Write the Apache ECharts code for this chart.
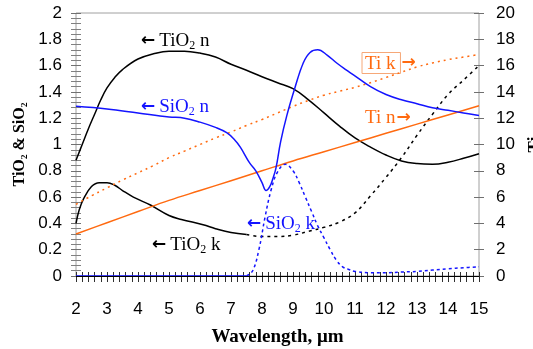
<!DOCTYPE html>
<html>
<head>
<meta charset="utf-8">
<script src="https://cdn.jsdelivr.net/npm/echarts@6/dist/echarts.min.js"></script>
<style>
html, body { margin: 0; padding: 0; background: #fff; }
#main { width: 533px; height: 349px; }
</style>
</head>
<body>
<div id="main"></div>
<script>
// [wavelength um, value]
var tio2N = [[2,0.88],[2.2,1.0],[2.4,1.12],[2.6,1.23],[2.8,1.34],[3,1.43],[3.25,1.51],[3.5,1.57],
	[4,1.65],[4.5,1.69],[5,1.71],[5.5,1.71],[6,1.695],[6.5,1.665],[7,1.61],[7.5,1.565],[8,1.515],
	[8.5,1.47],[9,1.425],[9.5,1.34],[10,1.24],[10.5,1.14],[11,1.05],[11.5,0.98],[12,0.92],
	[12.5,0.875],[13,0.855],[13.5,0.85],[14,0.865],[14.5,0.895],[15,0.93]];
var sio2N = [[2,1.29],[3,1.27],[4,1.24],[5,1.21],[5.5,1.2],[6,1.17],[6.5,1.13],[6.86,1.09],[7.1,1.04],
	[7.3,0.98],[7.6,0.86],[7.8,0.8],[8,0.71],[8.13,0.65],[8.25,0.68],[8.35,0.74],[8.45,0.82],[8.6,1.02],
	[8.8,1.22],[9.06,1.43],[9.33,1.62],[9.55,1.7],[9.8,1.72],[10.1,1.68],[10.41,1.62],[10.7,1.57],
	[10.95,1.53],[11.5,1.44],[12,1.38],[12.5,1.34],[13,1.31],[13.5,1.28],[14,1.26],[14.5,1.24],[15,1.22]];
var tio2K = [[2,0.4],[2.1,0.5],[2.25,0.59],[2.5,0.68],[2.75,0.71],[3,0.71],[3.25,0.69],[3.5,0.65],
	[3.85,0.6],[4.4,0.54],[5,0.46],[5.4,0.43],[6.1,0.39],[6.5,0.36],[7,0.33],[7.5,0.315],[8,0.3],
	[8.5,0.3],[9,0.31],[9.5,0.34],[10,0.37],[10.5,0.41],[11,0.48],[11.5,0.61],[12,0.75],[12.5,0.9],
	[13,1.07],[13.5,1.23],[14,1.38],[14.5,1.49],[15,1.6]];
var sio2K = [[2,0],[3,0],[4,0],[5,0],[6,0],[7,0],[7.5,0],[7.7,0.04],[7.9,0.2],[8.1,0.45],[8.3,0.66],
	[8.5,0.79],[8.75,0.85],[9,0.8],[9.2,0.71],[9.4,0.6],[9.6,0.49],[9.8,0.38],[10,0.29],[10.2,0.2],
	[10.4,0.12],[10.6,0.07],[10.8,0.05],[11,0.035],[11.5,0.025],[12,0.025],[12.5,0.03],[13,0.035],
	[13.5,0.045],[14,0.055],[14.5,0.063],[15,0.07]];
var tiN = [[2,3.2],[3,4.05],[4,4.9],[5,5.75],[6,6.5],[7,7.25],[8,8.0],[9,8.75],[10,9.45],[11,10.15],
	[12,10.85],[13,11.55],[14,12.25],[15,12.95]];
var tiK = [[2,5.45],[2.5,6.1],[3,6.7],[3.5,7.3],[4,7.85],[4.5,8.4],[5,9.0],[5.5,9.5],[6,10.0],[6.5,10.5],
	[7,10.95],[7.5,11.45],[8,11.9],[8.5,12.4],[9,12.9],[9.5,13.35],[10,13.75],[10.5,14.05],[11,14.35],
	[11.5,14.7],[12,15.1],[12.5,15.5],[13,15.9],[13.5,16.2],[14,16.45],[14.5,16.65],[15,16.85]];
var kBreak = 7.5; // k curves go dotted from here on

var serif = 'Liberation Serif';
var sans = 'Liberation Sans';
var black = '#000000';
var blue = '#1414ff';
var orange = '#ff6a10';

function before(d) { return d.filter(function (p) { return p[0] <= kBreak; }); }
function after(d) { return d.filter(function (p) { return p[0] >= kBreak; }); }

// graphic text tokens take fill, not color
function rich(color) {
	return {
		a: { fontFamily: 'DejaVu Sans', fontWeight: 'bold', fontSize: 17, fill: color, padding: [0, 4, 0, 0] },
		r: { fontFamily: 'DejaVu Sans', fontWeight: 'bold', fontSize: 17, fill: color, padding: [0, 0, 0, 1] },
		b: { fontFamily: serif, fontSize: 19, fill: color },
		s: { fontFamily: serif, fontSize: 12, fill: color, padding: [9, 0, 0, 0] },
		box: { fontFamily: serif, fontSize: 19, fill: color, borderColor: '#f6a878', borderWidth: 1, padding: [2, 5, 0, 3] }
	};
}

function label(x, y, text, color) {
	return {
		type: 'text', x: x, y: y,
		style: { text: text, fill: color, rich: rich(color), verticalAlign: 'middle', align: 'left' }
	};
}

function line(name, data, color, yIdx, dash) {
	return {
		name: name, type: 'line', data: data, yAxisIndex: yIdx,
		smooth: 0.4, symbol: 'none',
		lineStyle: { color: color, width: 1.5, type: dash || 'solid' }
	};
}

var chart = echarts.init(document.getElementById('main'));
chart.setOption({
	animation: false,
	grid: { left: 76, right: 54, top: 13, bottom: 73, show: true, borderColor: '#a0a0a0', borderWidth: 1,
		containLabel: false, outerBoundsMode: 'none' },
	// ticks cross the frame: the axes sit a few px inside and their ticks point out over the border
	xAxis: {
		type: 'value', min: 2, max: 15, interval: 1, offset: -4,
		axisLine: { show: true, onZero: false, lineStyle: { color: 'rgba(0,0,0,0)' } },
		axisTick: { show: true, length: 10, lineStyle: { color: '#303030', width: 1 } },
		minorTick: { show: true, splitNumber: 5, length: 10, lineStyle: { color: '#303030', width: 1 } },
		splitLine: { show: false },
		axisLabel: { margin: 29, fontFamily: sans, fontSize: 17, color: '#000' },
		name: 'Wavelength, μm', nameLocation: 'middle', nameGap: 56,
		nameTextStyle: { fontFamily: serif, fontWeight: 'bold', fontSize: 19, color: '#000' }
	},
	yAxis: [{
		type: 'value', min: 0, max: 2, interval: 0.2, offset: -5,
		axisLine: { show: true, lineStyle: { color: 'rgba(0,0,0,0)' } },
		axisTick: { show: true, length: 10, lineStyle: { color: '#707070', width: 1 } },
		minorTick: { show: true, splitNumber: 5, length: 10, lineStyle: { color: '#808080', width: 1 } },
		splitLine: { show: false },
		axisLabel: { margin: 19, fontFamily: sans, fontSize: 17, color: '#000' },
		name: 'TiO₂ & SiO₂', nameLocation: 'middle', nameGap: 41,
		nameTextStyle: { fontFamily: serif, fontWeight: 'bold', fontSize: 16, color: '#000' }
	}, {
		type: 'value', min: 0, max: 20, interval: 2, offset: -5, position: 'right',
		axisLine: { show: true, lineStyle: { color: 'rgba(0,0,0,0)' } },
		axisTick: { show: true, length: 10, lineStyle: { color: '#707070', width: 1 } },
		splitLine: { show: false },
		axisLabel: { margin: 22, fontFamily: sans, fontSize: 17, color: '#000' },
		name: 'Ti', nameLocation: 'middle', nameGap: 42,
		nameTextStyle: { fontFamily: serif, fontWeight: 'bold', fontSize: 17, color: '#000' }
	}],
	series: [
		{
			name: 'zero', type: 'line', data: [], yAxisIndex: 0,
			markLine: { silent: true, symbol: 'none', label: { show: false },
				lineStyle: { color: '#000', width: 1, type: 'solid' }, data: [{ yAxis: 0 }] }
		},
		line('TiO2 n', tio2N, black, 0),
		line('TiO2 k', before(tio2K), black, 0),
		line('TiO2 k dotted', after(tio2K), black, 0, [3, 4]),
		line('Ti n', tiN, orange, 1),
		line('Ti k', tiK, orange, 1, [2, 4]),
		line('SiO2 n', sio2N, blue, 0),
		line('SiO2 k', before(sio2K), blue, 0),
		line('SiO2 k dotted', after(sio2K), blue, 0, [3, 3])
	],
	graphic: [
		label(141, 41, '{a|←}{b|TiO}{s|2}{b| n}', black),
		label(141, 107, '{a|←}{b|SiO}{s|2}{b| n}', blue),
		label(152, 245, '{a|←}{b|TiO}{s|2}{b| k}', black),
		label(247, 224, '{a|←}{b|SiO}{s|2}{b| k}', blue),
		label(362, 63, '{box|Ti k}{r|→}', orange),
		label(365, 118, '{b|Ti n}{r|→}', orange)
	]
});
</script>
</body>
</html>
